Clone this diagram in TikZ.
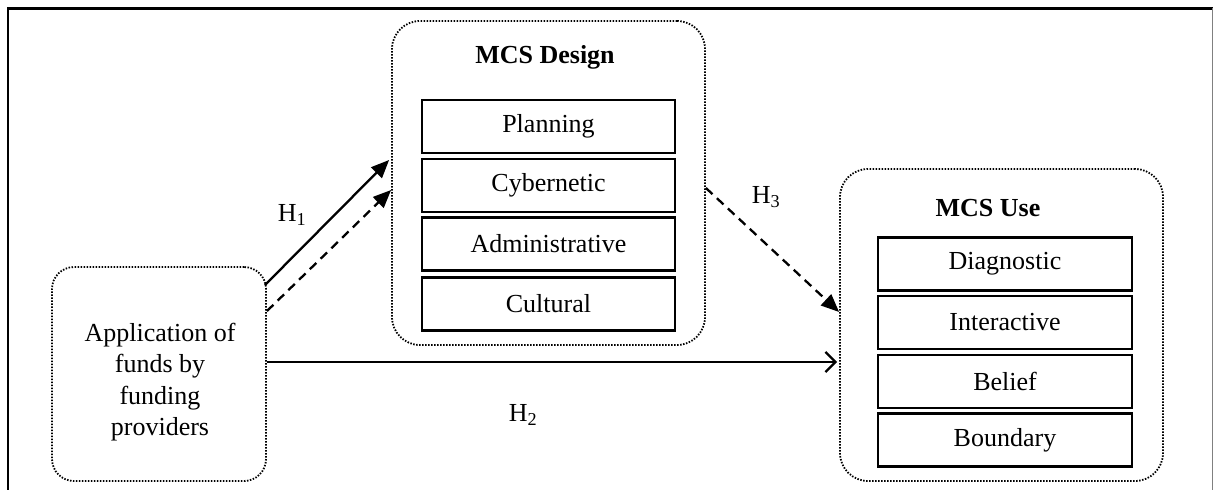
\documentclass[tikz,border=0pt]{standalone}
\usepackage{fontspec}
\setmainfont{Liberation Serif}
\usetikzlibrary{arrows.meta,calc}
\begin{document}
\begin{tikzpicture}[x=1pt,y=-1pt,
  every node/.style={font=\fontsize{26}{31.5}\selectfont},
  group/.style={draw, line width=1.8pt, dash pattern=on 1.5pt off 1.5pt, rounded corners=28pt, inner sep=0pt},
  item/.style={draw, line width=2.2pt, minimum width=253pt, minimum height=53pt, inner sep=0pt},
  lbl/.style={inner sep=0pt},
  conn/.style={line width=2.3pt},
  solidtip/.style={-{Triangle[length=18pt,width=15pt]}},
  opentip/.style={-{Straight Barb[length=10pt,width=20pt,line width=2.3pt]}}
]
\useasboundingbox (0,0) rectangle (1214,490);
% frame
\draw[line width=2.8pt] (7,8.5) -- (1213,8.5);
\draw[line width=2.3pt] (8,8) -- (8,490);
\draw[line width=1.6pt, gray] (1212.5,8) -- (1212.5,490);

% left box
\node[group, rounded corners=22pt, minimum width=214pt, minimum height=214pt] (app) at (159,374) {};
\node[lbl, align=center] (apptext) at (160,382) {Application of\\funds by\\funding\\providers};

% MCS design
\node[group, minimum width=313pt, minimum height=324pt] (design) at (548.5,183) {};
\node[lbl, font=\fontsize{26}{31}\selectfont\bfseries] (designtitle) at (545,57) {MCS Design};
\node[item] (plan) at (548.5,126.5) {Planning};
\node[item] (cyb) at (548.5,185.5) {Cybernetic};
\node[item] (adm) at (548.5,244) {Administrative};
\node[item] (cul) at (548.5,304) {Cultural};

% MCS use
\node[group, minimum width=323pt, minimum height=312pt] (use) at (1001.5,325) {};
\node[lbl, font=\fontsize{26}{31}\selectfont\bfseries] (usetitle) at (988,208) {MCS Use};
\node[item, minimum width=254pt] (diag) at (1005,264) {Diagnostic};
\node[item, minimum width=254pt] (inter) at (1005,322.5) {Interactive};
\node[item, minimum width=254pt] (bel) at (1005,381.5) {Belief};
\node[item, minimum width=254pt] (bound) at (1005,440) {Boundary};

% connectors
\draw[conn, solidtip] ([xshift=-2pt,yshift=-19pt]app.north east) -- ([xshift=-2pt,yshift=23pt]design.west);
\draw[conn, solidtip, dash pattern=on 9pt off 6pt] ([yshift=-45pt]app.north east) -- ([yshift=-7pt]design.west);
\draw[conn, solidtip, dash pattern=on 9pt off 6pt] ([yshift=-5pt]design.east) -- ([yshift=13pt]use.west);
\draw[conn, opentip] ([yshift=12pt]app.east) -- ([xshift=-2pt,yshift=-37pt]use.west);

% labels
\node[lbl] (h1) at (292,215) {H\textsubscript{1}};
\node[lbl] (h2) at (523,415) {H\textsubscript{2}};
\node[lbl] (h3) at (766,197) {H\textsubscript{3}};
\end{tikzpicture}
\end{document}
